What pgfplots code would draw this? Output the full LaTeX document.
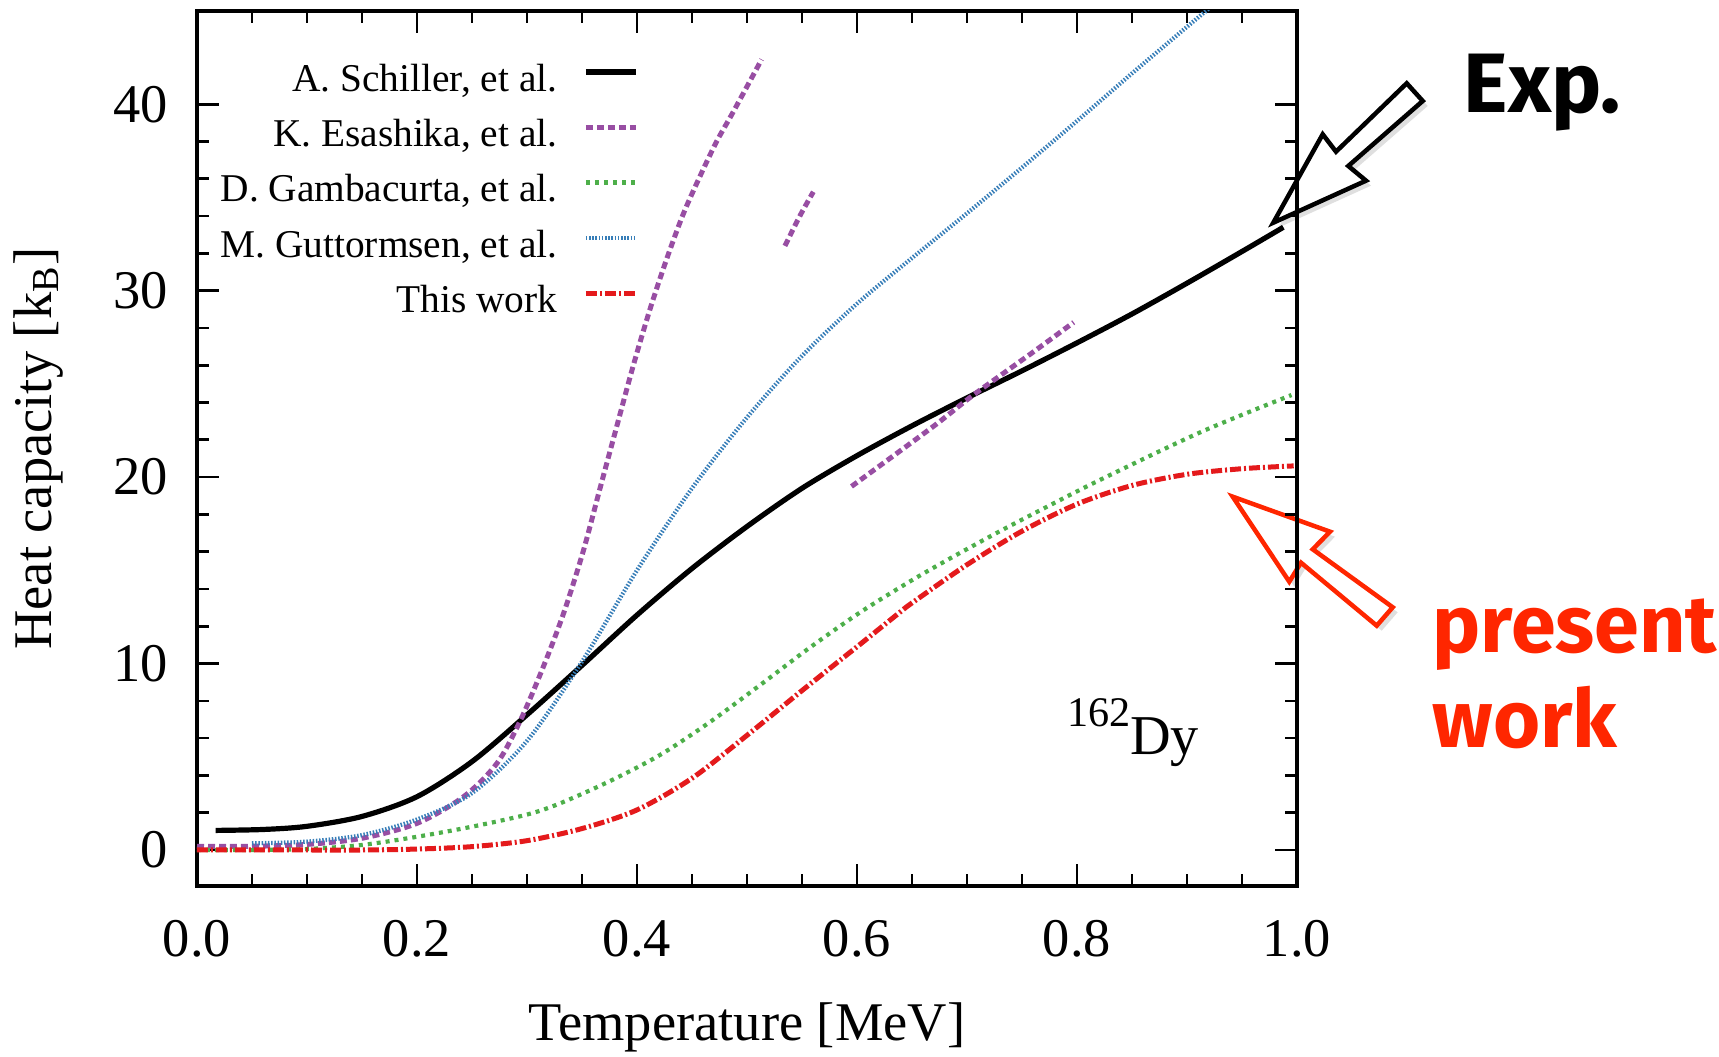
\documentclass[border=0pt]{standalone}
\usepackage{fontspec}
\setmainfont{Liberation Serif}
\newfontfamily\annfont{Fira Sans}
\usepackage{pgfplots}
\pgfplotsset{compat=1.18}
\usetikzlibrary{shadows}
\definecolor{cPur}{HTML}{984EA3}
\definecolor{cGrn}{HTML}{4DAF4A}
\definecolor{cBlu}{HTML}{377EB8}
\definecolor{cRed}{HTML}{E41A1C}
\definecolor{annred}{HTML}{FF2600}
\begin{document}
\begin{tikzpicture}
\useasboundingbox (0,0) rectangle (171.9mm,105.7mm);
\begin{scope}[x=0.1mm,y=-0.1mm,shift={(0mm,105.7mm)}]
\draw[line width=0.45mm, fill=white, drop shadow={shadow xshift=0.5mm, shadow yshift=-0.5mm, opacity=0.25}]
 (1273.3,222.7) -- (1322.7,134.3) -- (1336,151.7) -- (1406.7,83.3) -- (1422.7,101) -- (1348.3,166) -- (1366,180.7) -- cycle;
\draw[line width=0.45mm, draw=annred, fill=white, drop shadow={shadow xshift=0.5mm, shadow yshift=-0.5mm, opacity=0.25}]
 (1232.7,496.7) -- (1330,531.7) -- (1312.7,549.3) -- (1392.7,607.3) -- (1376.7,625.7) -- (1301,562.7) -- (1289.3,581.7) -- cycle;
\node[anchor=base west, inner sep=0pt, font=\annfont\bfseries\fontsize{24}{28}\selectfont] at (1463,113) {Exp.};
\node[anchor=base west, inner sep=0pt, text=annred, font=\annfont\bfseries\fontsize{23}{27}\selectfont] at (1432,653) {present};
\node[anchor=base west, inner sep=0pt, text=annred, font=\annfont\bfseries\fontsize{23}{27}\selectfont] at (1432,748) {work};
\end{scope}
\begin{axis}[
 at={(19.7mm,17.1mm)}, anchor=south west,
 scale only axis, width=110mm, height=87.5mm,
 xmin=0, xmax=1, ymin=-1.93, ymax=45,
 xtick={0,0.2,0.4,0.6,0.8,1},
 minor x tick num=3,
 ytick={0,10,20,30,40},
 minor y tick num=4,
 tick align=inside,
 major tick length=2.2mm, minor tick length=1.2mm,
 every tick/.style={black, line width=0.75pt},
 axis line style={line width=1pt},
 /pgf/number format/assume math mode=true,
 xticklabel style={/pgf/number format/.cd, fixed, fixed zerofill, precision=1, /tikz/.cd, yshift=-2.2mm},
 yticklabel style={xshift=-1.7mm},
 tick label style={font=\fontsize{15.5}{18}\selectfont},
 label style={font=\fontsize{15.5}{18}\selectfont},
 xlabel={Temperature [MeV]},
 ylabel={Heat capacity [k\textsubscript{B}]},
 xlabel style={at={(axis description cs:0.5,-0.162)}, anchor=center},
 ylabel style={at={(axis description cs:-0.1445,0.5)}, anchor=center},
 legend style={at={(axis cs:0.402,42.5)}, anchor=north east, draw=none, fill=none, inner sep=0pt,
   column sep=2.6mm, row sep=0pt, font=\fontsize{11.2}{13}\selectfont,
   nodes={inner sep=0pt, text height=3.3mm, text depth=2.23mm}},
 legend cell align=right, legend plot pos=right,
 legend image code/.code={\draw[#1] (0mm,1.4mm) -- (5mm,1.4mm);},
]
\addplot[black, line width=0.52mm, smooth] coordinates {
(0.017,1.05) (0.06,1.1) (0.1,1.27) (0.15,1.8) (0.2,2.86) (0.25,4.74) (0.3,7.25)
(0.35,9.9) (0.4,12.6) (0.45,15.1) (0.5,17.35) (0.55,19.4) (0.6,21.15) (0.65,22.75)
(0.7,24.25) (0.75,25.7) (0.8,27.2) (0.85,28.75) (0.9,30.4) (0.95,32.1) (0.9876,33.4)};
\addlegendentry{A. Schiller, et al.}
\addplot[cPur, line width=0.5mm, dash pattern=on 0.7mm off 0.4mm, smooth] coordinates {
(0.0,0.2) (0.05,0.2) (0.1,0.3) (0.15,0.63) (0.2,1.43) (0.2424,2.86) (0.2727,4.65)
(0.294,6.95) (0.315,9.85) (0.3333,12.7) (0.351,16.0) (0.3664,19.4) (0.3815,22.7)
(0.3967,26.0) (0.4118,29.0) (0.427,31.7) (0.442,34.1) (0.457,36.1) (0.4724,38.0)
(0.4876,39.6) (0.5133,42.4)};
\addlegendentry{K. Esashika, et al.}
\addplot[cGrn, line width=0.42mm, dash pattern=on 0.4mm off 0.5mm, smooth] coordinates {
(0.0,0.0) (0.05,0.0) (0.1,0.05) (0.15,0.27) (0.2,0.71) (0.25,1.25) (0.3,1.9)
(0.33,2.5) (0.3755,3.7) (0.421,5.1) (0.466,6.85) (0.512,8.85) (0.557,10.85)
(0.603,12.75) (0.648,14.4) (0.685,15.65) (0.73,17.1) (0.7724,18.4)
(0.821,19.85) (0.912,22.4) (0.995,24.4)};
\addlegendentry{D. Gambacurta, et al.}
\addplot[cBlu, line width=0.42mm, dash pattern=on 0.15mm off 0.17mm, smooth] coordinates {
(0.05,0.36) (0.1,0.45) (0.15,0.8) (0.2,1.64) (0.25,3.05) (0.3,5.85) (0.35,10.1)
(0.4,15.0) (0.45,19.4) (0.5,23.2) (0.55,26.5) (0.6,29.3) (0.65,31.75) (0.7,34.15)
(0.75,36.6) (0.8,39.1) (0.85,41.65) (0.9,44.15) (0.95,46.6)};
\addlegendentry{M. Guttormsen, et al.}
\addplot[cRed, line width=0.5mm, dash pattern=on 1.1mm off 0.3mm on 0.2mm off 0.3mm, smooth] coordinates {
(0.0,0.0) (0.1,0.0) (0.15,0.0) (0.2,0.05) (0.25,0.18) (0.3,0.5) (0.35,1.15)
(0.4,2.15) (0.45,3.85) (0.5,6.15) (0.55,8.55) (0.6,10.9) (0.639,12.75) (0.65,13.25)
(0.7,15.3) (0.75,17.1) (0.8,18.55) (0.85,19.55) (0.9,20.15) (0.95,20.45) (0.997,20.6)};
\addlegendentry{This work}
\addplot[cPur, line width=0.5mm, dash pattern=on 0.7mm off 0.4mm, smooth, forget plot] coordinates {
(0.5345,32.4) (0.548,34.0) (0.5603,35.3)};
\addplot[cPur, line width=0.5mm, dash pattern=on 0.7mm off 0.4mm, smooth, forget plot] coordinates {
(0.595,19.5) (0.669,22.7) (0.7057,24.4) (0.76,26.7) (0.797,28.3)};
\node[anchor=base, inner sep=0pt, font=\fontsize{16}{18}\selectfont] at (axis cs:0.851,5.1)
 {\raisebox{2.8mm}{\fontsize{12}{14}\selectfont 162}Dy};
\end{axis}
\end{tikzpicture}
\end{document}
